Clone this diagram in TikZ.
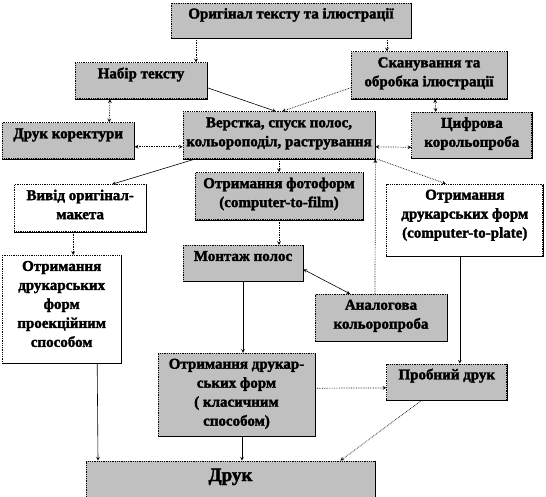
\documentclass[tikz,border=0pt]{standalone}
\usepackage{fontspec}
\setmainfont{Liberation Serif}[BoldFeatures={FakeBold=2}]
\usetikzlibrary{positioning}
\definecolor{boxgrey}{RGB}{192,192,192}

\begin{document}
\begin{tikzpicture}[>=stealth,
  every node/.style={font=\fontsize{15}{19}\selectfont\bfseries},
  box/.style={draw, densely dotted, line width=0.8pt, align=center, inner xsep=1pt, inner ysep=3pt},
  greybox/.style={box, fill=boxgrey},
  plainbox/.style={box, fill=white},
  link/.style={densely dotted, line width=0.7pt},
  solidlink/.style={line width=0.6pt}]
  \useasboundingbox (0pt,0pt) rectangle (546pt,-497pt);

  \node[greybox, minimum width=240pt, text height=12.5pt, text depth=16.5pt] (orig) at (291pt,-20.5pt) {Оригінал тексту та ілюстрації};
  \node[greybox, minimum width=132pt, text height=12.5pt, text depth=17.5pt, below=24pt of orig, xshift=-150pt] (nabir) {Набір тексту};
  \node[greybox, minimum width=156pt, text height=31.5pt, text depth=9.5pt, below=13pt of orig, xshift=138pt] (skan) {Сканування та\\обробка ілюстрації};
  \node[greybox, minimum width=192pt, text height=31.5pt, text depth=9.5pt, below=73pt of orig, xshift=-12pt] (verstka) {Верстка, спуск полос,\\кольороподіл, растрування};
  \node[greybox, minimum width=132pt, text height=12.5pt, text depth=17.5pt, left=48pt of verstka, yshift=-5.5pt] (koryk) {Друк коректури};
  \node[greybox, minimum width=120pt, text height=31.5pt, text depth=8.5pt, right=36pt of verstka] (tsyfr) {Цифрова\\корольопроба};

  \node[plainbox, minimum width=132pt, text height=31.5pt, text depth=9.5pt, below=25pt of koryk, xshift=12pt] (vyvid) {Вивід оригінал-\\макета};
  \node[greybox, minimum width=168pt, text height=31.5pt, text depth=9.5pt, below=13pt of verstka] (foto) {Отримання фотоформ\\(computer-to-film)};
  \node[plainbox, minimum width=156pt, text height=50.5pt, text depth=15.5pt, below=25pt of tsyfr, xshift=-7pt] (ctp) {Отримання\\друкарських форм\\(computer-to-plate)};
  \node[plainbox, minimum width=119pt, text height=88.5pt, text depth=13.5pt, below=23pt of vyvid, xshift=-18.5pt] (proek) {Отримання\\друкарських\\форм\\проекційним\\способом};
  \node[greybox, minimum width=120pt, text height=12.5pt, text depth=17.5pt, below=25pt of foto, xshift=-36pt] (montazh) {Монтаж полос};
  \node[greybox, minimum width=132pt, text height=31.5pt, text depth=9.5pt, below=12pt of montazh, xshift=138pt] (analog) {Аналогова\\кольоропроба};
  \node[greybox, minimum width=157pt, text height=69.5pt, text depth=7.5pt, below=71pt of montazh, xshift=-6.5pt] (klasych) {Отримання друкар-\\ських форм\\(\ класичним\\способом)};
  \node[greybox, minimum width=120pt, text height=12.5pt, text depth=17.5pt, below=107pt of ctp, xshift=-18pt] (probnyi) {Пробний друк};
  \node[greybox, minimum width=289pt, text height=17pt, text depth=14pt, font=\fontsize{19}{23}\selectfont\bfseries, below=24pt of klasych, xshift=-6pt] (druk) {Друк};

  % solid right and bottom edges
  \foreach \n in {orig,nabir,skan,koryk,verstka,tsyfr,vyvid,foto,ctp,proek,montazh,analog,klasych,probnyi,druk}
    \draw[line width=0.8pt] (\n.north east) -- (\n.south east) -- (\n.south west);

  \draw[link, ->] ([xshift=-95pt]orig.south) -- ([xshift=55pt]nabir.north);
  \draw[link, ->] ([xshift=96pt]orig.south) -- ([xshift=-42pt]skan.north);
  \draw[solidlink, ->] ([yshift=-7pt]nabir.east) -- ([xshift=-3pt]verstka.north);
  \draw[link, ->] ([yshift=-12.5pt]skan.west) -- ([xshift=3pt]verstka.north);
  \draw[link, <->] ([xshift=-31pt]nabir.south) -- ([xshift=41pt]koryk.north);
  \draw[link, <->] ([xshift=6pt]skan.south) -- ([xshift=-36pt]tsyfr.north);
  \draw[link, <->] ([yshift=-6pt]koryk.east) -- ([yshift=-11.5pt]verstka.west);
  \draw[link, <->] ([yshift=-11.5pt]verstka.east) -- ([yshift=-12pt]tsyfr.west);

  \draw[solidlink, ->] ([xshift=12pt]verstka.south west) -- ([xshift=32pt]vyvid.north);
  \draw[link, ->] (verstka.south) -- (foto.north);
  \draw[link, ->] ([xshift=-6pt]analog.north) -- (verstka.south east);
  \draw[link, ->] ([xshift=2pt]verstka.south east) -- ([xshift=-19pt]ctp.north);
  \draw[link, ->] ([xshift=-7pt]vyvid.south) -- ([xshift=11.5pt]proek.north);
  \draw[link, ->] (foto.south) -- ([xshift=36pt]montazh.north);
  \draw[solidlink, <->] ([yshift=-6pt]montazh.east) -- ([xshift=-31pt]analog.north);

  \draw[solidlink, ->] (montazh.south) -- ([xshift=6.5pt]klasych.north);
  \draw[solidlink, ->] ([xshift=-5pt]ctp.south) -- ([xshift=13pt]probnyi.north);
  \draw[link, ->] ([yshift=6.5pt]klasych.east) -- ([yshift=-6pt]probnyi.west);
  \draw[solidlink, ->] ([xshift=35.5pt]proek.south) -- ([xshift=-132.5pt]druk.north);
  \draw[solidlink, ->] ([xshift=5.5pt]klasych.south) -- ([xshift=11.5pt]druk.north);
  \draw[link, ->] ([xshift=-25pt]probnyi.south) -- ([xshift=-35pt]druk.north east);
\end{tikzpicture}
\end{document}
